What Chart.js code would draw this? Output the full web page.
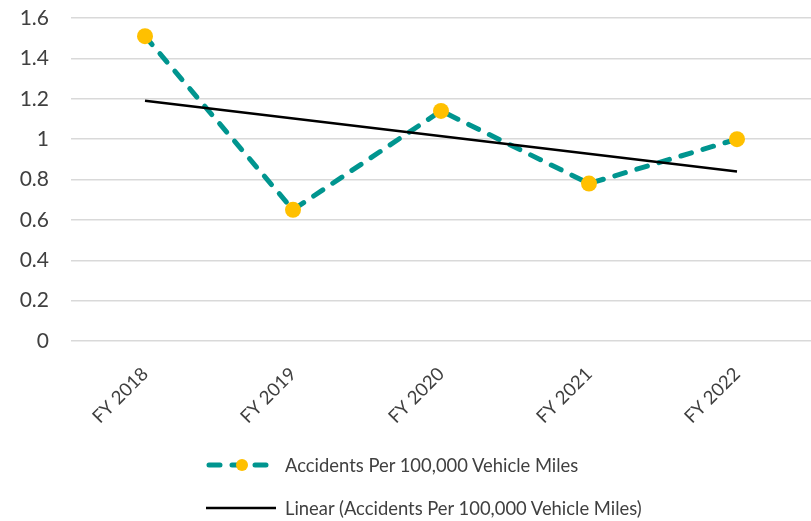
<!DOCTYPE html>
<html>
<head>
<style>
    body { margin: 0; background: #fff; }
    #wrap { position: relative; width: 811px; height: 521px; }
    #legend {
        position: absolute;
        left: 204px;
        top: 443px;
        font-family: Lato, sans-serif;
        font-size: 18.4px;
        color: #404040;
    }
    .row { display: flex; align-items: center; height: 43px; }
    .row svg { margin-right: 9px; }
</style>
</head>
<body>
<div id="wrap">
    <canvas id="chart" width="811" height="521"></canvas>
    <div id="legend">
        <div class="row">
            <svg width="72" height="20">
                <line x1="5" y1="10" x2="70" y2="10" stroke="#00958f" stroke-width="5" stroke-linecap="round" stroke-dasharray="11 12"></line>
                <circle cx="38" cy="10" r="6" fill="#ffc000"></circle>
            </svg>
            <span>Accidents Per 100,000 Vehicle Miles</span>
        </div>
        <div class="row">
            <svg width="72" height="20">
                <line x1="2" y1="10" x2="72" y2="10" stroke="#000" stroke-width="2.5"></line>
            </svg>
            <span>Linear (Accidents Per 100,000 Vehicle Miles)</span>
        </div>
    </div>
</div>

<script src="https://cdn.jsdelivr.net/npm/chart.js@4"></script>
<script>
    const years = ['FY 2018', 'FY 2019', 'FY 2020', 'FY 2021', 'FY 2022'];
    const accidents = [1.51, 0.65, 1.14, 0.78, 1.00];
    // trendline end points
    const trend = [1.19, null, null, null, 0.84];

    const ctx = document.getElementById('chart').getContext('2d');
    const chart = new Chart(ctx, {
        type: 'line',
        data: {
            labels: years,
            datasets: [
                {
                    label: 'Linear (Accidents Per 100,000 Vehicle Miles)',
                    data: trend,
                    borderColor: '#000000',
                    borderWidth: 2.5,
                    pointRadius: 0,
                    spanGaps: true,
                    order: 0
                },
                {
                    label: 'Accidents Per 100,000 Vehicle Miles',
                    data: accidents,
                    borderColor: '#00958f',
                    borderWidth: 5,
                    borderDash: [11, 12],
                    borderCapStyle: 'round',
                    pointRadius: 8,
                    pointBackgroundColor: '#ffc000',
                    pointBorderColor: '#ffc000',
                    pointBorderWidth: 0,
                    order: 1
                }
            ]
        },
        options: {
            responsive: false,
            animation: false,
            layout: { autoPadding: false, padding: { top: 18, left: 18, right: 0, bottom: 79 } },
            plugins: {
                legend: { display: false },
                tooltip: { enabled: false }
            },
            scales: {
                x: {
                    offset: true,
                    grid: { display: false },
                    border: { display: false },
                    ticks: {
                        color: '#404040',
                        font: { family: 'Lato, sans-serif', size: 18.5 },
                        minRotation: 45,
                        maxRotation: 45,
                        padding: 14
                    },
                    // don't let the rotated first label push the plot to the right
                    afterFit: (s) => { s.paddingLeft = 0; s.paddingRight = 0; }
                },
                y: {
                    min: 0,
                    max: 1.6,
                    grid: { color: '#d9d9d9', lineWidth: 1.5, drawTicks: false },
                    border: { display: false },
                    ticks: {
                        stepSize: 0.2,
                        color: '#404040',
                        font: { family: 'Lato, sans-serif', size: 21 },
                        padding: 22,
                        callback: (v) => String(+v.toFixed(1))
                    },
                    afterFit: (s) => { s.width = 53; s.paddingTop = 0; s.paddingBottom = 0; }
                }
            }
        }
    });
</script>
</body>
</html>
